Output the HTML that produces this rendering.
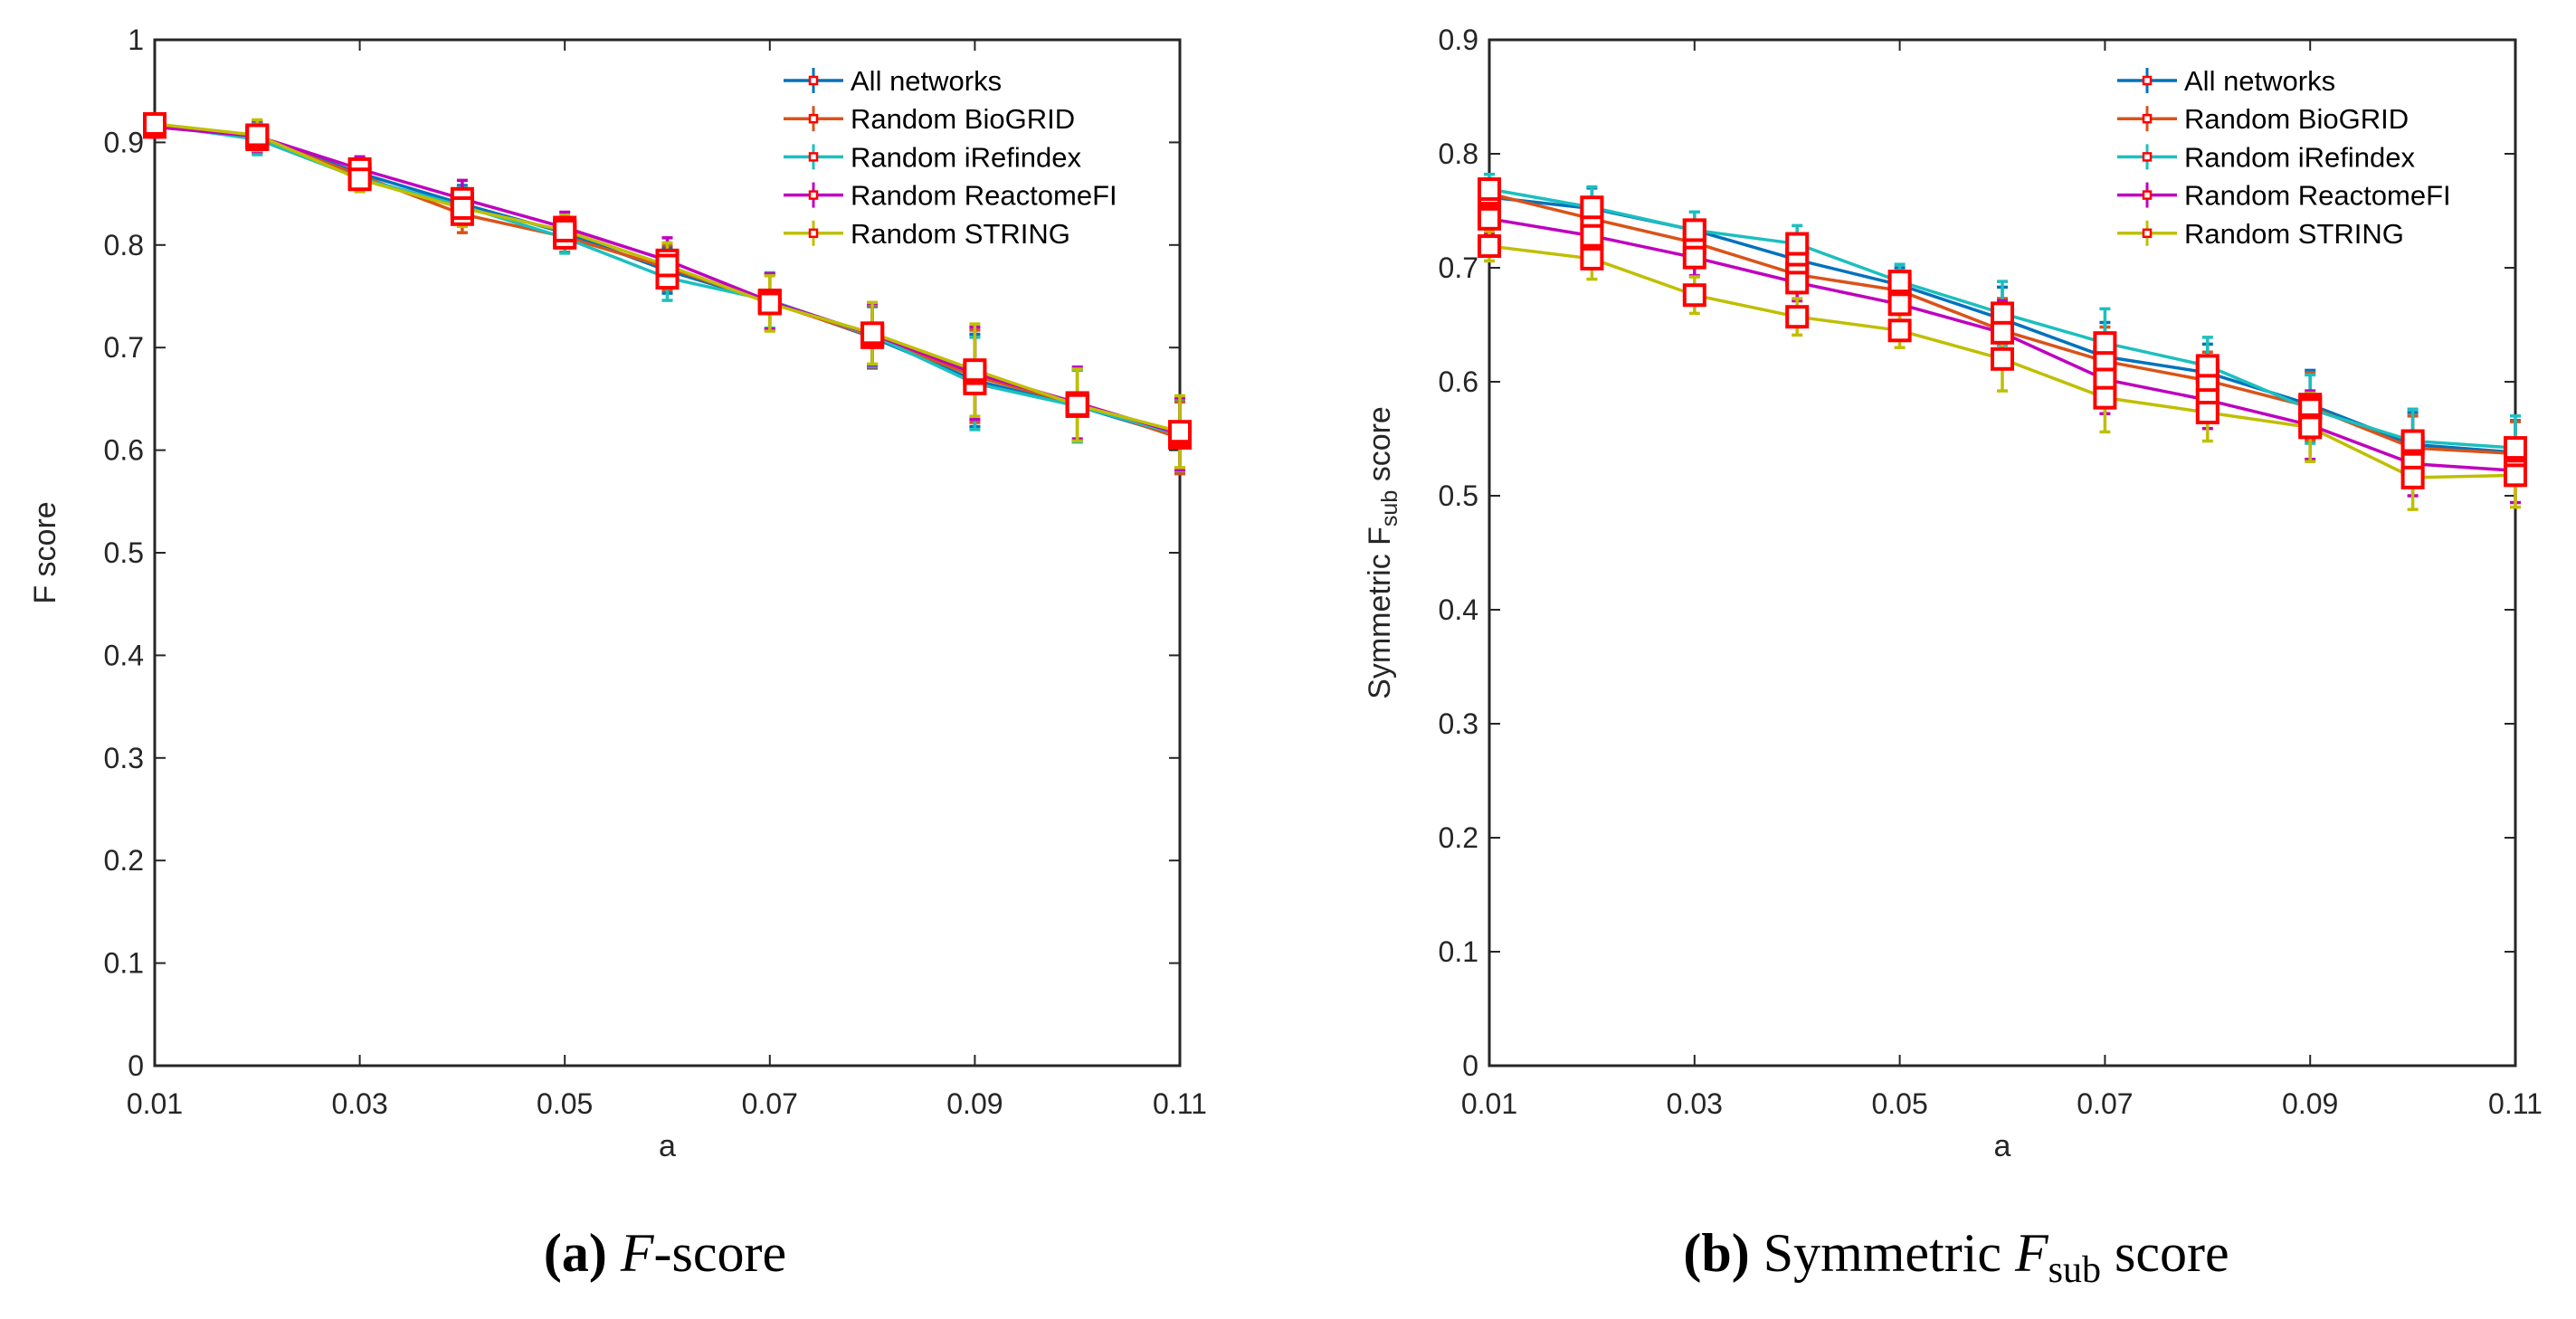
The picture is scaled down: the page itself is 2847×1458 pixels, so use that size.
<!DOCTYPE html>
<html><head><meta charset="utf-8">
<style>
html,body{margin:0;padding:0;background:#fff;}
svg{display:block;}
text{font-family:"Liberation Sans",sans-serif;fill:#262626;}
.cap{font-family:"Liberation Serif",serif;fill:#000;}
</style></head>
<body>
<svg id="fig" width="2847" height="1458" viewBox="0 0 2847 1458" xmlns="http://www.w3.org/2000/svg">
<text class="cap" x="735" y="1405" font-size="60" text-anchor="middle"><tspan font-weight="bold">(a)</tspan> <tspan font-style="italic">F</tspan>-score</text>
<text class="cap" x="2162" y="1405" font-size="60" text-anchor="middle"><tspan font-weight="bold">(b)</tspan> Symmetric <tspan font-style="italic">F</tspan><tspan font-size="42" dy="12">sub</tspan><tspan dy="-12"> score</tspan></text>
</svg>
<script>
const xVals=[0.01,0.02,0.03,0.04,0.05,0.06,0.07,0.08,0.09,0.10,0.11];
const xTicks=[0.01,0.03,0.05,0.07,0.09,0.11];
const seriesNames=["All networks","Random BioGRID","Random iRefindex","Random ReactomeFI","Random STRING"];
const seriesColors=["#0072BD","#D95319","#1CBFBF","#BF00BF","#BFBF00"];
// Panel A: F score
const fAll=[0.917,0.905,0.870,0.840,0.812,0.775,0.745,0.710,0.668,0.643,0.613];
const fBio=[0.916,0.905,0.868,0.830,0.808,0.778,0.744,0.711,0.672,0.645,0.612];
const fIref=[0.917,0.903,0.865,0.838,0.807,0.768,0.746,0.712,0.665,0.643,0.615];
const fReact=[0.915,0.906,0.874,0.845,0.817,0.785,0.745,0.713,0.675,0.646,0.616];
const fString=[0.918,0.907,0.864,0.836,0.814,0.780,0.743,0.714,0.678,0.644,0.618];
const fErr=[0.010,0.015,0.012,0.018,0.015,0.022,0.027,0.030,0.045,0.035,0.035];
const fTicks=[0,0.1,0.2,0.3,0.4,0.5,0.6,0.7,0.8,0.9,1];
// Panel B: Symmetric Fsub
const sAll=[0.762,0.752,0.733,0.707,0.685,0.655,0.622,0.608,0.580,0.545,0.538];
const sBio=[0.765,0.743,0.722,0.694,0.680,0.645,0.618,0.601,0.578,0.542,0.537];
const sIref=[0.769,0.753,0.733,0.721,0.688,0.660,0.634,0.614,0.576,0.548,0.542];
const sReact=[0.743,0.728,0.709,0.687,0.668,0.643,0.602,0.584,0.562,0.528,0.522];
const sString=[0.719,0.708,0.676,0.657,0.645,0.620,0.586,0.573,0.560,0.516,0.518];
const sErr=[0.013,0.018,0.016,0.016,0.015,0.028,0.030,0.025,0.030,0.028,0.028];
const sTicks=[0,0.1,0.2,0.3,0.4,0.5,0.6,0.7,0.8,0.9];

const NS="http://www.w3.org/2000/svg";
const svg=document.getElementById('fig');
function mk(tag,attrs,parent){const e=document.createElementNS(NS,tag);for(const k in attrs)e.setAttribute(k,attrs[k]);(parent||svg).appendChild(e);return e;}

function panel(id,L,R,T,B,yMax,yTicks,series,err,ylabel,legX){
  const g=mk('g',{});
  
  
  const xs=v=>L+(v-0.01)/(0.11-0.01)*(R-L);
  const ys=v=>B-v/yMax*(B-T);
  // ticks
  yTicks.forEach(t=>{
    const y=ys(t);
    mk('line',{x1:L,x2:L+12,y1:y,y2:y,stroke:'#262626','stroke-width':2},g);
    mk('line',{x1:R-12,x2:R,y1:y,y2:y,stroke:'#262626','stroke-width':2},g);
    const tx=mk('text',{x:L-12,y:y+11,'font-size':32,'text-anchor':'end'},g);
    tx.textContent=String(t);
    
    
  });
  xTicks.forEach(t=>{
    const x=xs(t);
    mk('line',{x1:x,x2:x,y1:B,y2:B-12,stroke:'#262626','stroke-width':2},g);
    mk('line',{x1:x,x2:x,y1:T,y2:T+12,stroke:'#262626','stroke-width':2},g);
    const tx=mk('text',{x:x,y:B+53,'font-size':32,'text-anchor':'middle'},g);
    tx.textContent=t.toFixed(2);
    
    
  });
  mk('rect',{x:L,y:T,width:R-L,height:B-T,fill:'none',stroke:'#262626','stroke-width':3},g);
  // series
  series.forEach((vals,si)=>{
    const c=seriesColors[si];
    const sg=mk('g',{},g);
    
    
    vals.forEach((v,i)=>{
      const x=xs(xVals[i]);const e=err[i];
      mk('line',{x1:x,x2:x,y1:ys(v-e),y2:ys(v+e),stroke:c,'stroke-width':3.5},sg);
      mk('line',{x1:x-6,x2:x+6,y1:ys(v-e),y2:ys(v-e),stroke:c,'stroke-width':3.5},sg);
      mk('line',{x1:x-6,x2:x+6,y1:ys(v+e),y2:ys(v+e),stroke:c,'stroke-width':3.5},sg);
    });
    mk('polyline',{points:vals.map((v,i)=>xs(xVals[i])+','+ys(v)).join(' '),fill:'none',stroke:c,'stroke-width':3.5},sg);
  });
  series.forEach((vals,si)=>{
    vals.forEach((v,i)=>{
      const m=mk('rect',{x:xs(xVals[i])-11,y:ys(v)-11,width:22,height:22,fill:'#fff',stroke:'#ff0000','stroke-width':4},g);
      
      
    });
  });
  // legend
  seriesNames.forEach((n,si)=>{
    const y=89+si*42.2;
    const lg=mk('g',{},g);
    
    
    mk('line',{x1:legX,x2:legX+66,y1:y,y2:y,stroke:seriesColors[si],'stroke-width':3.5},lg);
    mk('line',{x1:legX+33,x2:legX+33,y1:y-14,y2:y+14,stroke:seriesColors[si],'stroke-width':3},lg);
    mk('rect',{x:legX+29,y:y-4,width:8,height:8,fill:'#fff',stroke:'#ff0000','stroke-width':2.5},lg);
    const t=mk('text',{x:legX+74,y:y+11,'font-size':31,fill:'#000'},lg);
    t.style.fill='#000';
    t.textContent=n;
  });
  // axis labels
  const xl=mk('text',{x:(L+R)/2,y:B+100,'font-size':34,'text-anchor':'middle'},g);
  xl.textContent='a';
  
  
  const yl=mk('text',{x:0,y:0,'font-size':34,'text-anchor':'middle',transform:'translate('+(L-110)+','+((T+B)/2)+') rotate(-90)'},g);
  
  
  if(ylabel==='F'){yl.textContent='F score';}
  else{yl.innerHTML='Symmetric F<tspan font-size="25" dy="8">sub</tspan><tspan dy="-8"> score</tspan>';}
}
panel('panel-a-fscore',171,1304,44,1178,1,fTicks,[fAll,fBio,fIref,fReact,fString],fErr,'F',866);
panel('panel-b-symmetric-fsub',1646,2780,44,1178,0.9,sTicks,[sAll,sBio,sIref,sReact,sString],sErr,'S',2340);
</script>
</body></html>
